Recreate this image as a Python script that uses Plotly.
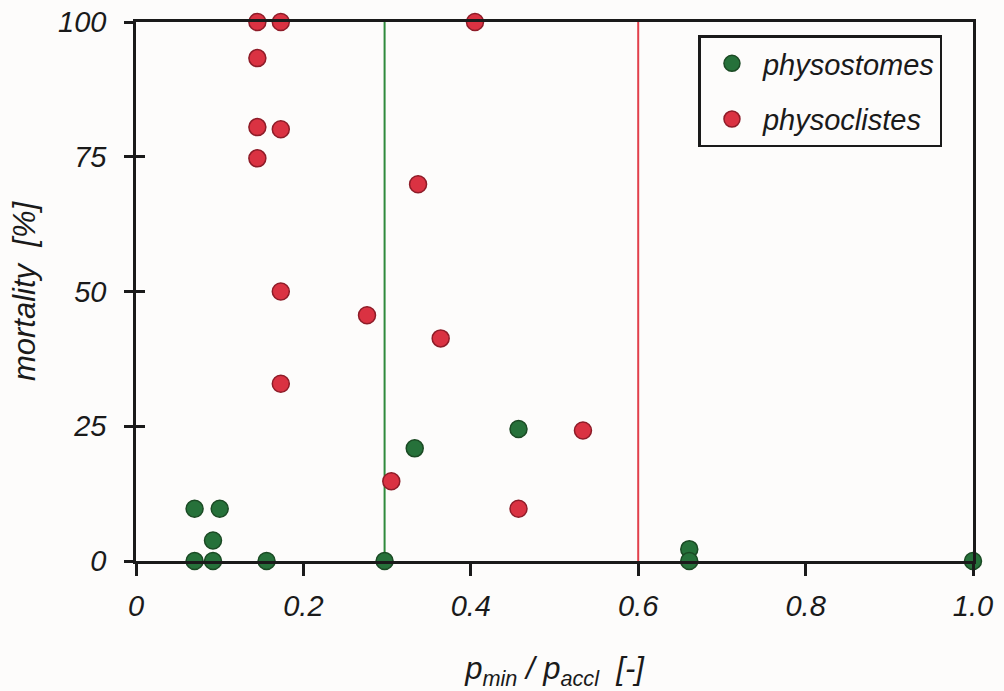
import plotly.graph_objects as go

# physostomes (green)
phs_x = [0.070, 0.100, 0.092, 0.070, 0.092, 0.156, 0.297, 0.333, 0.457, 0.661, 0.661, 1.000]
phs_y = [9.7, 9.7, 3.8, 0.0, 0.0, 0.0, 0.0, 20.9, 24.5, 2.2, 0.0, 0.0]

# physoclistes (red)
phc_x = [0.145, 0.173, 0.405, 0.145, 0.145, 0.173, 0.145, 0.173, 0.276, 0.173, 0.305, 0.337, 0.364, 0.457, 0.534]
phc_y = [100.0, 100.0, 100.0, 93.3, 80.5, 80.1, 74.7, 50.0, 45.6, 32.9, 14.8, 69.9, 41.3, 9.7, 24.2]

# threshold lines
green_limit = 0.297
red_limit = 0.600
y_span = [0, 100]

x_ticks = [0, 0.2, 0.4, 0.6, 0.8, 1.0]
x_tick_labels = ["0", "0.2", "0.4", "0.6", "0.8", "1.0"]
y_ticks = [0, 25, 50, 75, 100]
y_tick_labels = ["0", "25", "50", "75", "100"]

FONT = "Liberation Sans, Arial, sans-serif"
GREEN_FILL = "#26713a"
GREEN_EDGE = "#1b4a24"
RED_FILL = "#da3242"
RED_EDGE = "#8e1c28"
INK = "#1a1a1a"
BG = "#fdfcfb"

fig = go.Figure()

fig.add_trace(go.Scatter(x=[green_limit, green_limit], y=y_span, mode="lines",
                         line=dict(color="#2f8a3c", width=2), showlegend=False,
                         hoverinfo="skip", cliponaxis=False))
fig.add_trace(go.Scatter(x=[red_limit, red_limit], y=y_span, mode="lines",
                         line=dict(color="#e2404c", width=2), showlegend=False,
                         hoverinfo="skip", cliponaxis=False))

fig.add_trace(go.Scatter(x=phs_x, y=phs_y, mode="markers", name="physostomes",
                         legendgroup="a",
                         marker=dict(size=17, color=GREEN_FILL, line=dict(color=GREEN_EDGE, width=1.5)),
                         cliponaxis=False))
fig.add_trace(go.Scatter(x=phc_x, y=phc_y, mode="markers", name="physoclistes",
                         legendgroup="b",
                         marker=dict(size=17, color=RED_FILL, line=dict(color=RED_EDGE, width=1.5)),
                         cliponaxis=False))

# invisible trace to anchor the overlay axis (inner tick marks)
fig.add_trace(go.Scatter(x=[0], y=[0], yaxis="y2", mode="markers",
                         marker=dict(opacity=0), showlegend=False, hoverinfo="skip"))

fig.update_layout(
    width=1004, height=691,
    margin=dict(l=136, r=31, t=22, b=130, autoexpand=False),
    paper_bgcolor=BG, plot_bgcolor=BG,
    font=dict(family=FONT, size=29, color=INK),
    xaxis=dict(range=[0, 1], tickvals=x_ticks, ticktext=x_tick_labels,
               automargin=False, ticklabeloverflow="allow",
               showgrid=False, zeroline=False, showline=True, mirror=True,
               linecolor=INK, linewidth=2.5, ticks="outside", ticklen=12,
               tickwidth=2.5, tickcolor=INK, ticklabelstandoff=5,
               tickfont=dict(family=FONT, size=29, style="italic"),
               title=dict(text="p<sub>min</sub> / p<sub>accl</sub>  [-]",
                          font=dict(family=FONT, size=31, style="italic"), standoff=41)),
    yaxis=dict(range=[0, 100], tickvals=y_ticks, ticktext=y_tick_labels,
               automargin=False, ticklabeloverflow="allow",
               showgrid=False, zeroline=False, showline=True, mirror=True,
               linecolor=INK, linewidth=2.5, ticks="outside", ticklen=9,
               tickwidth=2.5, tickcolor=INK, ticklabelstandoff=12,
               tickfont=dict(family=FONT, size=29, style="italic"),
               title=dict(text="mortality  [%]",
                          font=dict(family=FONT, size=31, style="italic"), standoff=14)),
    yaxis2=dict(range=[0, 100], tickvals=y_ticks, overlaying="y", side="left",
                automargin=False,
                showgrid=False, zeroline=False, showline=False, showticklabels=False,
                ticks="inside", ticklen=9, tickwidth=2.5, tickcolor=INK),
    legend=dict(x=0.672, y=0.975, xanchor="left", yanchor="top",
                bordercolor=INK, borderwidth=2.5, bgcolor=BG,
                font=dict(family=FONT, size=29, style="italic"),
                tracegroupgap=15, traceorder="grouped", itemsizing="trace",
                itemwidth=52),
    showlegend=True,
)

fig.write_html("out.html", config={"displayModeBar": False},
               post_script="document.body.style.margin='0';")
